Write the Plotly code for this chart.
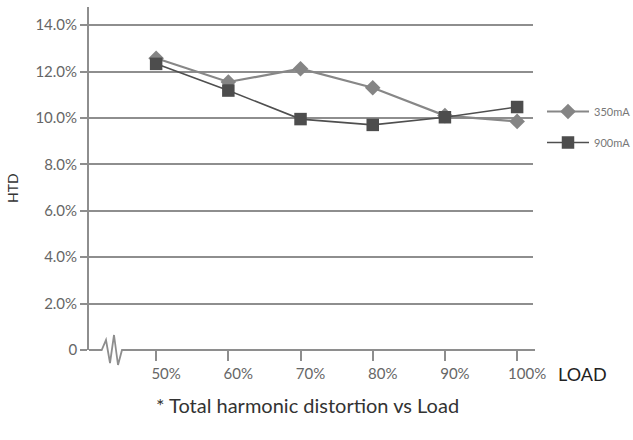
import plotly.graph_objects as go

# Load steps (%) and total harmonic distortion for each drive current
load_pct = [50, 60, 70, 80, 90, 100]
load_labels = ["50%", "60%", "70%", "80%", "90%", "100%"]
thd_350ma = [0.1257, 0.1155, 0.1212, 0.1130, 0.1010, 0.0985]
thd_900ma = [0.1233, 0.1118, 0.0995, 0.0970, 0.1003, 0.1047]
y_ticks = [0, 0.02, 0.04, 0.06, 0.08, 0.10, 0.12, 0.14]
y_tick_labels = ["0", "2.0%", "4.0%", "6.0%", "8.0%", "10.0%", "12.0%", "14.0%"]

FONT = "Lato"
AXIS_GREY = "#8e8e8e"
PLOT_W, PLOT_H = 444, 343  # plot-area size in pixels


def px_x(px):
    """Horizontal page pixel -> paper fraction."""
    return (px - 89) / PLOT_W


def px_y(py):
    """Vertical page pixel -> paper fraction."""
    return (350 - py) / PLOT_H


fig = go.Figure()
fig.add_trace(go.Scatter(
    x=load_pct, y=thd_350ma, name="350mA", mode="lines+markers",
    line=dict(color="#878787", width=2.2),
    marker=dict(symbol="diamond", size=12, color="#858585"),
    legendgroup="a",
))
fig.add_trace(go.Scatter(
    x=load_pct, y=thd_900ma, name="900mA", mode="lines+markers",
    line=dict(color="#4f4f4f", width=1.6),
    marker=dict(symbol="square", size=12.5, color="#4d4d4d"),
    legendgroup="b",
))

# x-axis baseline with a break symbol near the origin
fig.add_shape(
    type="path", xref="paper", yref="paper", xanchor=0, yanchor=0,
    xsizemode="pixel", ysizemode="pixel",
    path="M 0,0 L 12.7,0 L 17,10 L 21,-13 L 25,15 L 29,-15 L 33,0 L 446,0",
    line=dict(color=AXIS_GREY, width=1.8),
)

fig.add_annotation(text="HTD", xref="paper", yref="paper", x=px_x(12), y=px_y(188),
                   xanchor="center", yanchor="middle", textangle=-90, showarrow=False,
                   font=dict(family=FONT, size=14, color="#333333"))
fig.add_annotation(text="LOAD", xref="paper", yref="paper", x=px_x(582), y=px_y(374),
                   xanchor="center", yanchor="middle", showarrow=False,
                   font=dict(family=FONT, size=18, color="#222222"))
fig.add_annotation(text="* Total harmonic distortion vs Load", xref="paper", yref="paper",
                   x=px_x(307), y=px_y(405), xanchor="center", yanchor="middle",
                   showarrow=False, font=dict(family=FONT, size=20, color="#333333"))

fig.update_layout(
    width=633, height=440,
    margin=dict(l=89, r=100, t=7, b=90, autoexpand=False),
    paper_bgcolor="white", plot_bgcolor="white",
    font=dict(family=FONT, color="#666666"),
    showlegend=True,
    legend=dict(x=px_x(542), y=px_y(97), xanchor="left", yanchor="top",
                font=dict(family=FONT, size=11, color="#777777"),
                itemwidth=42, tracegroupgap=12, bgcolor="rgba(0,0,0,0)"),
    xaxis=dict(
        range=[40.7, 102.2], tickvals=load_pct, ticktext=load_labels,
        showgrid=False, zeroline=False, showline=False,
        ticks="outside", ticklen=10, tickwidth=1.5, tickcolor=AXIS_GREY,
        ticklabelshift=10, tickfont=dict(size=15, color="#666666"),
    ),
    yaxis=dict(
        range=[0, 0.1478], tickvals=y_ticks, ticktext=y_tick_labels,
        showgrid=True, gridcolor=AXIS_GREY, gridwidth=1.6,
        zeroline=False, showline=True, linecolor=AXIS_GREY, linewidth=1.8,
        ticks="outside", ticklen=7, tickwidth=1.6, tickcolor=AXIS_GREY,
        tickfont=dict(size=15, color="#666666"),
    ),
)

fig.write_html("out.html")
